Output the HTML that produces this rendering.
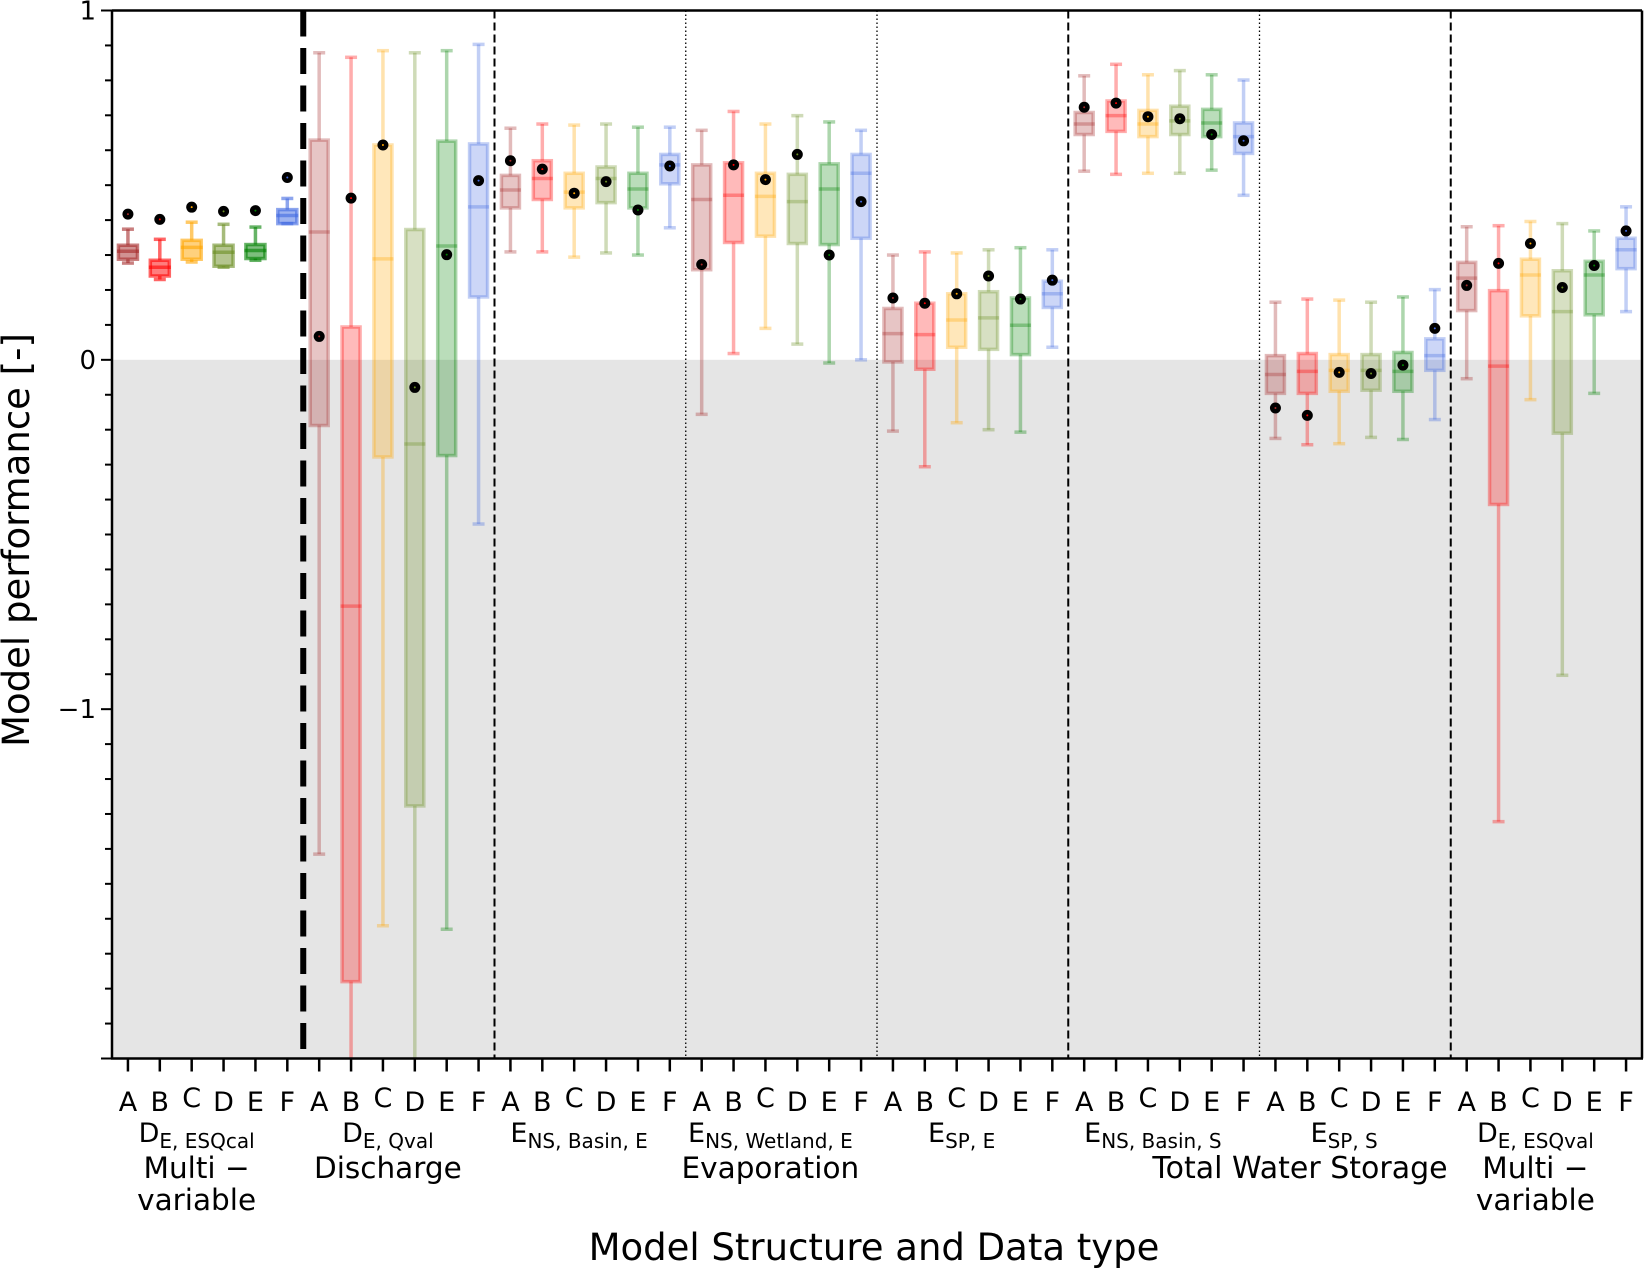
<!DOCTYPE html>
<html><head><meta charset="utf-8"><style>
html,body{margin:0;padding:0;background:#fff;}
svg{display:block;font-family:"DejaVu Sans","Liberation Sans",sans-serif;}
</style></head><body>
<svg id="chart" width="1645" height="1271" viewBox="0 0 1645 1271" xmlns="http://www.w3.org/2000/svg">
<g id="bg"></g>
<g id="seps"></g>
<g id="boxes"></g>
<g id="axes"></g>
<g id="labels"></g>
<text x="874" y="1260" font-size="37" text-anchor="middle">Model Structure and Data type</text>
<text transform="translate(29,540) rotate(-90)" font-size="37" text-anchor="middle">Model performance [-]</text>
</svg>
<script>
const models = ['A','B','C','D','E','F'];
const lows  = [0.277,0.23,0.28,0.265,0.285,0.39, -1.415,-2.1,-1.62,-2.1,-1.63,-0.47, 0.309,0.309,0.294,0.306,0.3,0.378, -0.156,0.018,0.09,0.045,-0.009,0, -0.204,-0.306,-0.18,-0.2,-0.207,0.036, 0.54,0.531,0.534,0.534,0.543,0.471, -0.225,-0.243,-0.24,-0.222,-0.228,-0.171, -0.054,-1.322,-0.114,-0.903,-0.096,0.138];
const q1s   = [0.288,0.24,0.288,0.268,0.29,0.39, -0.188,-1.78,-0.278,-1.277,-0.274,0.18, 0.435,0.459,0.435,0.45,0.435,0.504, 0.258,0.336,0.354,0.333,0.33,0.348, -0.006,-0.027,0.036,0.03,0.015,0.15, 0.645,0.654,0.639,0.645,0.639,0.591, -0.096,-0.096,-0.09,-0.087,-0.09,-0.03, 0.141,-0.414,0.126,-0.21,0.129,0.261];
const meds  = [0.311,0.265,0.322,0.308,0.313,0.413, 0.366,-0.705,0.289,-0.241,0.326,0.438, 0.486,0.519,0.48,0.519,0.489,0.558, 0.459,0.471,0.468,0.453,0.489,0.534, 0.075,0.072,0.114,0.12,0.099,0.189, 0.675,0.699,0.675,0.684,0.678,0.639, -0.042,-0.033,-0.03,-0.03,-0.033,0.012, 0.234,-0.018,0.243,0.138,0.243,0.315];
const q3s   = [0.328,0.285,0.342,0.328,0.33,0.43, 0.629,0.094,0.615,0.373,0.626,0.618, 0.528,0.57,0.534,0.552,0.534,0.588, 0.558,0.564,0.534,0.531,0.561,0.588, 0.147,0.162,0.189,0.195,0.177,0.225, 0.708,0.741,0.714,0.726,0.717,0.678, 0.012,0.018,0.015,0.015,0.021,0.06, 0.279,0.198,0.288,0.255,0.282,0.348];
const highs = [0.374,0.345,0.394,0.388,0.38,0.462, 0.879,0.866,0.885,0.879,0.885,0.903, 0.663,0.675,0.672,0.675,0.666,0.666, 0.657,0.711,0.675,0.699,0.681,0.657, 0.3,0.309,0.306,0.315,0.321,0.315, 0.813,0.846,0.816,0.828,0.816,0.801, 0.165,0.174,0.171,0.165,0.18,0.201, 0.381,0.384,0.396,0.39,0.369,0.438];
const dots  = [0.417,0.402,0.437,0.425,0.427,0.522, 0.067,0.463,0.615,-0.079,0.301,0.513, 0.57,0.546,0.477,0.51,0.429,0.555, 0.273,0.558,0.516,0.588,0.3,0.453, 0.177,0.162,0.189,0.24,0.174,0.228, 0.723,0.735,0.696,0.69,0.645,0.627, -0.138,-0.159,-0.036,-0.039,-0.015,0.09, 0.213,0.276,0.333,0.207,0.27,0.369];
const yTicks = [1,0,-1];
const yTickLabels = ['1','0','\u22121'];

const NS='http://www.w3.org/2000/svg';
const L=112,R=1642,T=10.5,B=1058.5,vMax=1,vMin=-2;
const cw=(R-L)/48;
const colors=['#a52a2a','#ff0000','#ffa500','#6b8e23','#008000','#4169e1'];
const yS=v=>T+(vMax-v)/(vMax-vMin)*(B-T);
const yC=v=>yS(Math.max(vMin,Math.min(vMax,v)));
const xS=i=>L+cw*(i+0.5);
function mk(tag,attrs,parent){const e=document.createElementNS(NS,tag);for(const k in attrs)e.setAttribute(k,attrs[k]);parent.appendChild(e);return e;}

const bg=document.getElementById('bg');
let r=mk('rect',{x:L,y:yS(0),width:R-L,height:B-yS(0),fill:'#e5e5e5'},bg);



const seps=document.getElementById('seps');
const sepStyles=[['6','26 11.5'],['2','8 4'],['1.3','1.5 2.5'],['1.3','1.5 2.5'],['2','8 4'],['1.3','1.5 2.5'],['2','8 4']];
sepStyles.forEach((s,k)=>{const x=L+cw*6*(k+1);
 const ln=mk('line',{x1:x,x2:x,y1:T,y2:B,stroke:'#000','stroke-width':s[0],'stroke-dasharray':s[1]},seps);
 
 
});

const bx=document.getElementById('boxes');
for(let i=0;i<48;i++){
 const g=mk('g',{},bx);
 
 
 const c=colors[i%6];const a=i<6?0.6:0.32;const x=xS(i);const w=i<6?19:18;
 const st={stroke:c,'stroke-opacity':a,'stroke-width':3.5};
 mk('line',Object.assign({x1:x,x2:x,y1:yC(highs[i]),y2:yC(q3s[i])},st),g);
 mk('line',Object.assign({x1:x,x2:x,y1:yC(q1s[i]),y2:yC(lows[i])},st),g);
 if(highs[i]<=vMax) mk('line',Object.assign({x1:x-6,x2:x+6,y1:yS(highs[i]),y2:yS(highs[i])},st),g);
 if(lows[i]>=vMin) mk('line',Object.assign({x1:x-6,x2:x+6,y1:yS(lows[i]),y2:yS(lows[i])},st),g);
 mk('rect',Object.assign({x:x-w/2,y:yC(q3s[i]),width:w,height:yC(q1s[i])-yC(q3s[i]),fill:c,'fill-opacity':a*0.85},st),g);
 mk('line',Object.assign({x1:x-w/2-1.5,x2:x+w/2+1.5,y1:yC(meds[i]),y2:yC(meds[i])},st),g);
 const d=mk('circle',{cx:x,cy:yS(dots[i]),r:5.5,fill:'#000'},g);
 
 
 mk('circle',{cx:x,cy:yS(dots[i]),r:1,fill:c},g);
}

const ax=document.getElementById('axes');
mk('line',{x1:L,x2:L,y1:T,y2:B,stroke:'#000','stroke-width':2.5},ax);
mk('line',{x1:R,x2:R,y1:T,y2:B,stroke:'#000','stroke-width':2.5},ax);
mk('line',{x1:L,x2:R,y1:T,y2:T,stroke:'#000','stroke-width':2.5},ax);
mk('line',{x1:L-1,x2:R+1,y1:B,y2:B,stroke:'#000','stroke-width':2.5},ax);
for(let k=0;k<=30;k++){const v=vMax-k*0.1;const y=yS(v);const major=(k%10===0);
 mk('line',{x1:L-(major?11:7),x2:L,y1:y,y2:y,stroke:'#000','stroke-width':2},ax);}
yTicks.forEach((v,k)=>{const t=mk('text',{x:L-16,y:yS(v)+9,'font-size':26,'text-anchor':'end'},ax);t.textContent=yTickLabels[k];
 
 });
for(let i=0;i<48;i++){const x=xS(i);
 mk('line',{x1:x,x2:x,y1:B,y2:B+13,stroke:'#000','stroke-width':2.5},ax);
 const t=mk('text',{x:x,y:models[i%6]==='C'?1107:1111,'font-size':27,'text-anchor':'middle'},ax);t.textContent=models[i%6];
 
 }

const lab=document.getElementById('labels');
const glabels=[['D','E, ESQcal',['Multi \u2212','variable']],['D','E, Qval',['Discharge']],['E','NS, Basin, E',[]],['E','NS, Wetland, E',['Evaporation']],['E','SP, E',[]],['E','NS, Basin, S',[]],['E','SP, S',[]],['D','E, ESQval',['Multi \u2212','variable']]];
glabels.forEach((gl,k)=>{const cx=L+cw*6*k+cw*3-11;
 const t=mk('text',{x:cx,y:1142,'font-size':27,'text-anchor':'middle'},lab);
 
 
 const s1=mk('tspan',{},t);s1.textContent=gl[0];
 const s2=mk('tspan',{'font-size':20,dy:6},t);s2.textContent=gl[1];
 gl[2].forEach((ln,j)=>{const u=mk('text',{x:cx,y:1178+j*32,'font-size':29.5,'text-anchor':'middle'},lab);u.textContent=ln;
  
  });
});
const tw=mk('text',{x:1300,y:1178,'font-size':30,'text-anchor':'middle'},lab);tw.textContent='Total Water Storage';


</script>
</body></html>
